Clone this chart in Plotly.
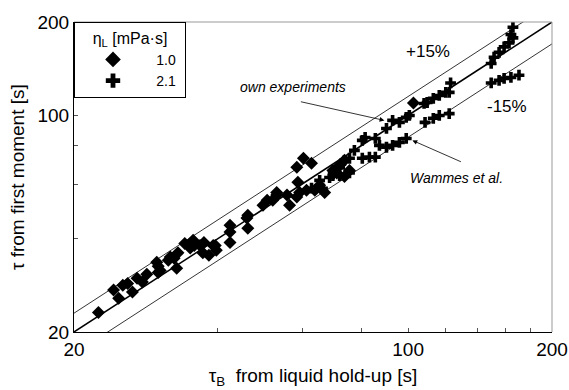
import math
import plotly.graph_objects as go

# ---------------- data ----------------
# eta_L = 1.0 mPa s (diamonds)
d_x = [22.5, 25.3, 26.5, 27.1, 28.4, 30.0, 30.0, 31.5, 32.8, 32.4, 34.1, 35.7, 37.4, 38.3, 39.5,
       42.4, 42.4, 46.2, 46.2, 49.7, 52.1, 29.8, 30.3, 31.8, 33.0, 35.0, 35.5, 36.7, 37.2, 39.1,
       39.7, 42.4, 46.0, 50.7, 53.1, 55.8, 56.5, 58.5, 59.3, 61.3, 60.4, 62.8, 58.5, 58.8, 53.1,
       102.6, 71.9, 73.6, 75.4, 70.9, 73.6, 69.6, 65.3, 66.9, 63.8, 24.2, 24.8, 25.9, 27.8]
d_y = [23.1, 28.3, 26.9, 29.8, 30.7, 32.6, 31.1, 34.1, 32.1, 34.6, 38.6, 38.0, 38.9, 35.4, 38.0,
       44.2, 38.9, 47.6, 43.2, 51.3, 53.2, 33.6, 31.6, 34.9, 36.0, 37.3, 39.5, 38.0, 36.0, 38.0,
       36.7, 42.0, 46.6, 53.2, 56.4, 55.3, 51.3, 54.5, 56.4, 57.3, 72.7, 70.0, 68.0, 60.8, 55.3,
       109.6, 69.0, 71.6, 66.4, 65.2, 63.5, 66.4, 59.5, 56.4, 57.3, 27.3, 25.7, 28.7, 29.0]

# eta_L = 2.1 mPa s (crosses) - own experiments
own_x = [65.3, 62.8, 69.6, 75.4, 80.2, 81.3, 85.4, 87.1, 90.1, 92.8, 95.9, 99.1, 100.6, 109.6,
         112.9, 108.0, 116.2, 119.9, 122.7, 121.9, 149.2, 151.3, 155.0, 158.8, 162.6, 164.1,
         165.7, 165.7, 71.9, 77.2, 73.6]
own_y = [61.7, 58.2, 63.9, 72.7, 83.0, 84.8, 84.2, 80.0, 90.7, 96.3, 94.9, 98.5, 99.9, 110.0,
         113.4, 109.2, 115.9, 118.6, 127.2, 118.6, 147.0, 154.0, 159.6, 166.3, 171.3, 182.2,
         192.4, 177.8, 67.6, 77.1, 71.6]

# eta_L = 2.1 mPa s (crosses) - Wammes et al.
wam_x = [66.2, 68.5, 71.9, 75.4, 80.2, 83.0, 85.4, 90.1, 92.8, 95.9, 99.1, 108.5, 112.9, 116.2,
         121.9, 149.2, 155.0, 158.8, 164.1, 170.6]
wam_y = [58.2, 63.0, 63.9, 65.2, 72.7, 73.3, 73.3, 78.9, 80.0, 81.8, 84.2, 94.9, 97.8, 99.9,
         101.3, 127.2, 129.6, 131.5, 132.5, 134.7]

# reference lines y = f * x
line_x = [20, 200]
line_factors = [1.15, 1.0, 0.85]

tick_vals = [20, 40, 60, 80, 100, 120, 140, 160, 180, 200]
tick_text = ["20", "", "", "", "100", "", "", "", "", "200"]

# ---------------- figure ----------------
FONT = "Liberation Sans, Arial, Helvetica, sans-serif"
NB = "\u00a0"
fig = go.Figure()

for f in line_factors:
    fig.add_trace(go.Scatter(
        x=line_x, y=[v * f for v in line_x], mode="lines",
        line=dict(color="black", width=1.5 if f == 1.0 else 0.8),
        showlegend=False, hoverinfo="skip"))

fig.add_trace(go.Scatter(
    x=d_x, y=d_y, mode="markers", name=NB * 6 + "1.0" + NB,
    marker=dict(symbol="diamond", size=10, color="black")))

fig.add_trace(go.Scatter(
    x=own_x + wam_x, y=own_y + wam_y, mode="markers", name=NB * 6 + "2.1" + NB,
    marker=dict(symbol="cross", size=9, color="black")))

axis_common = dict(
    type="log", tickvals=tick_vals, ticktext=tick_text, ticks="inside", ticklen=4,
    tickcolor="#555", showgrid=False, zeroline=False, showline=True, linecolor="black",
    linewidth=1, tickfont=dict(size=19, color="black", family=FONT), automargin=False,
)

fig.update_xaxes(range=[math.log10(20), math.log10(200)],
                 title=dict(text="τ<sub>B</sub>  from liquid hold-up [s]",
                            font=dict(size=19, color="black", family=FONT), standoff=9),
                 **axis_common)
fig.update_yaxes(range=[math.log10(20), math.log10(200)], **axis_common)

ann_font = dict(family=FONT, size=17, color="black")
it_font = dict(family=FONT, size=14, color="black")


def label(x, y, text, font, **kw):
    return dict(xref="paper", yref="paper", x=x, y=y, text=text, showarrow=False,
                xanchor="center", yanchor="middle", font=font, **kw)


annotations = [
    label(0.741, 0.906, "+15%", ann_font),
    label(0.906, 0.729, "-15%", ann_font),
    label(0.458, 0.79, "<i>own experiments</i>", it_font),
    label(0.801, 0.497, "<i>Wammes et al.</i>", it_font),
    label(-0.119, 0.5, "τ from first moment [s]", dict(family=FONT, size=19, color="black"),
          textangle=-90),
    dict(xref="x", yref="y", x=math.log10(89.2), y=math.log10(96.3), text="", showarrow=True,
         ax=-85, ay=-19, arrowhead=2, arrowsize=1.2, arrowwidth=0.8, arrowcolor="black"),
    dict(xref="x", yref="y", x=math.log10(102.1), y=math.log10(83.0), text="", showarrow=True,
         ax=50, ay=22, arrowhead=2, arrowsize=1.2, arrowwidth=0.8, arrowcolor="black"),
]

shapes = [
    dict(type="line", xref="paper", yref="paper", x0=0, x1=1, y0=1, y1=1,
         line=dict(color="#999", width=1)),
    dict(type="line", xref="paper", yref="paper", x0=1, x1=1, y0=0, y1=1,
         line=dict(color="#999", width=1)),
]

fig.update_layout(
    width=569, height=390,
    margin=dict(l=74, r=17, t=22, b=58, autoexpand=False),
    paper_bgcolor="white", plot_bgcolor="white",
    font=dict(family=FONT, color="black"),
    annotations=annotations, shapes=shapes,
    legend=dict(x=0, y=1, xanchor="left", yanchor="top", bgcolor="white",
                bordercolor="black", borderwidth=1, indentation=18,
                font=dict(size=14, family=FONT, color="black"),
                title=dict(text="η<sub>L</sub> [mPa·s]", font=dict(size=16, family=FONT, color="black"),
                           side="top center"),
                tracegroupgap=0, itemsizing="constant"),
)

fig.write_html("out.html")
